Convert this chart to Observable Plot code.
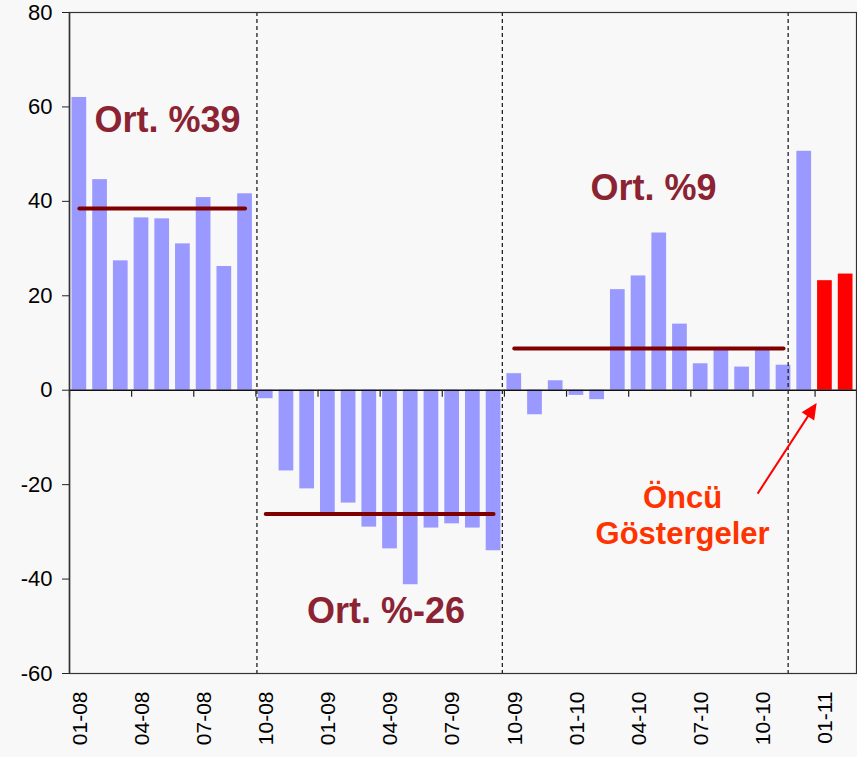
<!DOCTYPE html>
<html>
<head>
<meta charset="utf-8">
<script src="https://cdn.jsdelivr.net/npm/d3@7"></script>
<script src="https://cdn.jsdelivr.net/npm/@observablehq/plot@0.6"></script>
<style>
  html, body { margin: 0; padding: 0; background: #f8f8f8; }
  #chart svg { display: block; }
</style>
</head>
<body>
<div id="chart"></div>
<script>
// ---- data ----
const months = [
  "01-08","02-08","03-08","04-08","05-08","06-08","07-08","08-08","09-08","10-08","11-08","12-08",
  "01-09","02-09","03-09","04-09","05-09","06-09","07-09","08-09","09-09","10-09","11-09","12-09",
  "01-10","02-10","03-10","04-10","05-10","06-10","07-10","08-10","09-10","10-10","11-10","12-10",
  "01-11","02-11"
];
const values = [
  62.0, 44.6, 27.4, 36.5, 36.3, 31.0, 40.8, 26.2, 41.6, -1.8, -17.1, -20.9,
  -26.1, -23.9, -29.0, -33.6, -41.2, -29.2, -28.3, -29.2, -34.0, 3.5, -5.2, 2.0,
  -1.1, -2.0, 21.3, 24.2, 33.3, 14.0, 5.6, 8.8, 4.9, 9.0, 5.3, 50.6,
  23.2, 24.6
];
const leadingMonths = ["01-11", "02-11"];
const tickLabels = ["01-08","04-08","07-08","10-08","01-09","04-09","07-09","10-09","01-10","04-10","07-10","10-10","01-11"];
const yTicks = [-60, -40, -20, 0, 20, 40, 60, 80];
const periodStarts = ["01-08", "10-08", "10-09"];
const periodEnds = ["09-08", "09-09", "11-10"];
const periodLabels = ["Ort. %39", "Ort. %-26", "Ort. %9"];
// label anchor positions (month-index units, value units)
const periodLabelX = [4.73, 15.28, 28.2];
const periodLabelY = [54.7, -49.4, 40.3];
const dividers = [9.05, 20.9, 34.7];
const noteText = "Öncü\nGöstergeler";
const noteX = 29.6, noteY = -32.6;
const arrowFrom = {x: 33.25, y: -22.0};
const arrowTo = {x: 36.1, y: -2.8};

// ---- derived tables ----
const idx = (m) => months.indexOf(m);
const bars = months.map((m, i) => ({month: m, i, value: values[i], leading: leadingMonths.includes(m)}));
const avg = periodStarts.map((s, k) => {
  const a = idx(s), b = idx(periodEnds[k]);
  return {x1: a + 0.5, x2: b + 0.5, mean: d3.mean(values.slice(a, b + 1))};
});
const labelRows = periodLabels.map((t, k) => ({text: t, x: periodLabelX[k], y: periodLabelY[k]}));
const tickPos = tickLabels.map((m) => idx(m) + 0.5);
const boundaries = tickLabels.map((m) => idx(m));

function arrowMark(from, to) {
  return function (index, scales) {
    const s = scales && typeof scales.x === "function" ? scales : index;
    const x1 = s.x(from.x), y1 = s.y(from.y), x2 = s.x(to.x), y2 = s.y(to.y);
    const ang = Math.atan2(y2 - y1, x2 - x1);
    const L = 16, W = 7.5;
    const bx = x2 - L * Math.cos(ang), by = y2 - L * Math.sin(ang);
    const px = -Math.sin(ang) * W, py = Math.cos(ang) * W;
    const g = d3.create("svg:g");
    g.append("line")
      .attr("x1", x1).attr("y1", y1).attr("x2", bx + 2 * Math.cos(ang)).attr("y2", by + 2 * Math.sin(ang))
      .attr("stroke", "#ff0000").attr("stroke-width", 2);
    g.append("path")
      .attr("d", `M${x2},${y2}L${bx + px},${by + py}L${bx - px},${by - py}Z`)
      .attr("fill", "#ff0000");
    return g.node();
  };
}

const chart = Plot.plot({
  width: 857,
  height: 757,
  marginTop: 12,
  marginBottom: 84,
  marginLeft: 69,
  marginRight: 1,
  style: {background: "#f8f8f8", fontFamily: "'Liberation Sans', Arial, sans-serif", color: "#000"},
  x: {type: "linear", domain: [0, months.length]},
  y: {domain: [-60, 80]},
  marks: [
    Plot.rectY(bars, {
      x1: "i", x2: (d) => d.i + 1, y: "value",
      insetLeft: 2.5, insetRight: 3.5,
      fill: (d) => (d.leading ? "#ff0000" : "#9999ff")
    }),
    Plot.ruleY(avg, {y: "mean", x1: "x1", x2: "x2", stroke: "#800000", strokeWidth: 4, strokeLinecap: "round"}),
    Plot.ruleY([0], {stroke: "#111", strokeWidth: 1.5}),
    Plot.ruleX(boundaries, {x: (d) => d, y1: 0, y2: 0, insetBottom: -7, stroke: "#222", strokeWidth: 1.2}),
    Plot.ruleX(dividers, {x: (d) => d, stroke: "#222", strokeWidth: 1.3, strokeDasharray: "4,3"}),
    Plot.axisY({ticks: yTicks, tickFormat: (d) => String(d), tickSize: 7, tickPadding: 10, fontSize: 22, stroke: "#222"}),
    Plot.axisX({
      ticks: tickPos,
      tickFormat: (d) => months[Math.round(d - 0.5)],
      tickRotate: -90, tickSize: 0, tickPadding: 18, fontSize: 21
    }),
    Plot.text(labelRows, {
      x: "x", y: "y", text: "text", fontSize: 36, fontWeight: "bold",
      fill: "#8b2332", textAnchor: "middle", lineAnchor: "bottom"
    }),
    Plot.text([noteText], {
      x: () => noteX, y: () => noteY, text: (d) => d, fontSize: 31, fontWeight: "bold",
      fill: "#ff3300", textAnchor: "middle", lineAnchor: "bottom", lineHeight: 1.18
    }),
    arrowMark(arrowFrom, arrowTo),
    Plot.ruleX([0], {stroke: "#222", strokeWidth: 1.5}),
    Plot.frame({stroke: "#333", strokeWidth: 1.2})
  ]
});
document.getElementById("chart").appendChild(chart);
</script>
</body>
</html>
